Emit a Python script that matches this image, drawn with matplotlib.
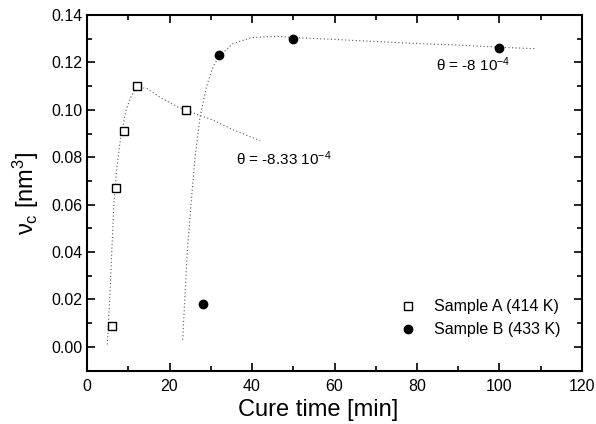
import matplotlib
matplotlib.use("Agg")
import matplotlib.pyplot as plt
from matplotlib.ticker import MultipleLocator, FormatStrFormatter

plt.rcParams['font.family'] = ['Liberation Sans', 'DejaVu Sans']
plt.rcParams['mathtext.fontset'] = 'custom'
plt.rcParams['mathtext.rm'] = 'Liberation Sans'
plt.rcParams['mathtext.it'] = 'Liberation Sans'

# measured points
time_a = [6.1, 7.0, 9.0, 12.0, 24.0]
nu_a = [0.009, 0.067, 0.091, 0.110, 0.100]
time_b = [28.0, 32.0, 50.0, 100.0]
nu_b = [0.018, 0.123, 0.130, 0.126]

# dotted fit curves
fit_a_x = [4.9, 5.5, 6.0, 6.5, 7.2, 8.2, 9.5, 10.5, 11.5, 12.5, 14.5,
           18.0, 22.0, 26.0, 30.5, 35.5, 42.0]
fit_a_y = [0.001, 0.020, 0.040, 0.060, 0.075, 0.089, 0.100, 0.105, 0.108,
           0.1095, 0.109, 0.105, 0.1012, 0.0985, 0.0957, 0.0915, 0.087]
fit_b_x = [23.2, 23.7, 24.3, 25.2, 26.2, 27.4, 29.0, 30.5, 32.0, 35.4,
           40.0, 46.0, 50.0, 60.0, 70.0, 80.0, 90.0, 100.0, 108.6]
fit_b_y = [0.003, 0.020, 0.040, 0.060, 0.080, 0.097, 0.110, 0.118, 0.1225,
           0.128, 0.1305, 0.131, 0.1305, 0.1297, 0.1288, 0.128, 0.1273,
           0.1264, 0.1258]

fig = plt.figure(figsize=(5.96, 4.24), dpi=100)
ax = fig.add_axes([0.146, 0.126, 0.8305, 0.8386])

ax.plot(fit_a_x, fit_a_y, color='#555555', lw=0.8, ls=(0, (1, 2.2)))
ax.plot(fit_b_x, fit_b_y, color='#555555', lw=0.8, ls=(0, (1, 2.2)))

ax.plot(time_a, nu_a, 's', ms=5.5, mfc='white', mec='black', mew=1.0,
        ls='none', label='Sample A (414 K)')
ax.plot(time_b, nu_b, 'o', ms=6, color='black', ls='none',
        label='Sample B (433 K)')

ax.text(36.1, 0.0795, r'$\theta$ = -8.33 10$^{-4}$', fontsize=11, va='center')
ax.text(84.6, 0.119, r'$\theta$ = -8 10$^{-4}$', fontsize=11, va='center')

ax.set_xlim(0, 120)
ax.set_ylim(-0.01, 0.14)
ax.xaxis.set_major_locator(MultipleLocator(20))
ax.xaxis.set_minor_locator(MultipleLocator(10))
ax.yaxis.set_major_locator(MultipleLocator(0.02))
ax.yaxis.set_minor_locator(MultipleLocator(0.01))
ax.yaxis.set_major_formatter(FormatStrFormatter('%.2f'))
ax.tick_params(which='both', direction='in', top=True, right=True,
               labelsize=11.5, width=1.2)
ax.tick_params(which='major', length=6)
ax.tick_params(which='minor', length=3.5)
ax.tick_params(axis='x', pad=6)
for s in ax.spines.values():
    s.set_linewidth(1.5)

ax.set_xlabel('Cure time [min]', fontsize=17)
ax.xaxis.set_label_coords(0.467, -0.08)
ax.set_ylabel(r'$\nu_{c}$ [nm$^3$]', fontsize=17, labelpad=7)

ax.legend(loc='center left', bbox_to_anchor=(0.6, 0.147), frameon=False,
          fontsize=11.5, handlelength=1.2, handletextpad=1.0,
          labelspacing=0.5)

fig.savefig('out.png', dpi=100)
